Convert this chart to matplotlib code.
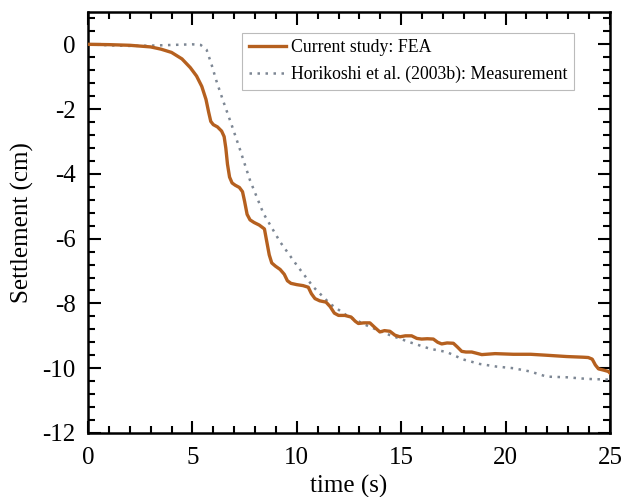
import matplotlib
matplotlib.use("Agg")
import matplotlib.pyplot as plt
from matplotlib.ticker import MultipleLocator

plt.rcParams['font.family'] = ['Liberation Serif', 'DejaVu Serif']

fea_t = [0, 1, 2, 3, 3.5, 4.0, 4.5, 4.9, 5.2, 5.45, 5.65, 5.78, 5.88, 6.0, 6.2, 6.4, 6.52, 6.6, 6.68, 6.78, 6.9, 7.05, 7.25, 7.4, 7.5, 7.62, 7.76, 7.95, 8.2, 8.45, 8.55, 8.68, 8.8, 8.98, 9.2, 9.4, 9.55, 9.72, 10.0, 10.3, 10.55, 10.7, 10.87, 11.1, 11.4, 11.6, 11.8, 12.0, 12.3, 12.6, 12.8, 12.95, 13.2, 13.5, 13.75, 13.98, 14.2, 14.46, 14.7, 14.94, 15.2, 15.5, 15.75, 15.98, 16.25, 16.54, 16.75, 16.94, 17.2, 17.5, 17.7, 17.9, 18.1, 18.38, 18.86, 19.5, 20.37, 21.2, 21.97, 22.93, 23.7, 23.96, 24.15, 24.3, 24.45, 24.7, 24.92, 25.0]
fea_s = [0, -0.01, -0.03, -0.08, -0.15, -0.25, -0.45, -0.72, -0.98, -1.3, -1.7, -2.1, -2.38, -2.48, -2.55, -2.68, -2.85, -3.2, -3.7, -4.1, -4.28, -4.35, -4.42, -4.55, -4.85, -5.25, -5.42, -5.5, -5.58, -5.7, -6.05, -6.5, -6.75, -6.85, -6.95, -7.1, -7.3, -7.38, -7.42, -7.45, -7.5, -7.7, -7.85, -7.92, -7.96, -8.1, -8.3, -8.37, -8.37, -8.42, -8.55, -8.62, -8.6, -8.6, -8.75, -8.88, -8.84, -8.86, -8.98, -9.03, -9.0, -9.0, -9.08, -9.1, -9.09, -9.1, -9.2, -9.25, -9.22, -9.23, -9.35, -9.48, -9.5, -9.5, -9.58, -9.55, -9.57, -9.57, -9.6, -9.64, -9.66, -9.67, -9.72, -9.9, -10.02, -10.06, -10.1, -10.15]

mea_t = [0, 1, 2, 3, 4, 5, 5.4, 5.68, 5.92, 6.16, 6.48, 6.88, 7.28, 7.76, 8.4, 9.2, 10.0, 10.79, 11.59, 12.39, 13.35, 14.3, 15.42, 16.38, 17.18, 17.97, 18.77, 19.57, 20.37, 21.17, 21.97, 22.93, 23.89, 24.84, 25.0]
mea_s = [0, -0.03, -0.05, -0.04, -0.02, 0.0, -0.02, -0.17, -0.63, -1.15, -1.76, -2.49, -3.25, -4.2, -5.22, -6.1, -6.82, -7.49, -8.01, -8.37, -8.68, -8.94, -9.2, -9.4, -9.5, -9.73, -9.87, -9.95, -10.0, -10.1, -10.26, -10.28, -10.33, -10.35, -10.35]

x_ticks = [0, 5, 10, 15, 20, 25]
y_ticks = [0, -2, -4, -6, -8, -10, -12]

fig = plt.figure(figsize=(6.30, 4.97), dpi=100)
ax = fig.add_axes([0.1397, 0.1288, 0.8285, 0.8472])

ax.plot(fea_t, fea_s, color='#B5601F', lw=2.4, label='Current study: FEA', zorder=3, solid_joinstyle='round')
ax.plot(mea_t, mea_s, color='#7D8794', lw=1.8, ls=(0, (1, 2.2)), label='Horikoshi et al. (2003b): Measurement', zorder=2)

ax.set_xlim(0, 25)
ax.set_ylim(-12, 1)
ax.set_xticks(x_ticks)
ax.set_yticks(y_ticks)
ax.set_yticklabels([str(v) for v in y_ticks])
ax.xaxis.set_minor_locator(MultipleLocator(1))
ax.yaxis.set_minor_locator(MultipleLocator(0.4))
ax.tick_params(which='both', direction='in', top=True, right=True, labelsize=18, width=1.5, colors='black')
ax.tick_params(which='major', length=9)
ax.tick_params(which='minor', length=5)
ax.tick_params(axis='x', pad=10)
ax.tick_params(axis='y', pad=9)
for sp in ax.spines.values():
    sp.set_linewidth(1.8)

ax.set_xlabel('time (s)', fontsize=18, labelpad=4)
ax.set_ylabel('Settlement (cm)', fontsize=18, labelpad=6)

leg = ax.legend(loc='upper right', bbox_to_anchor=(0.931, 0.950), borderaxespad=0, fontsize=12.8, frameon=True,
                fancybox=False, edgecolor='#AAAAAA', handlelength=2.1, borderpad=0.35, labelspacing=0.55,
                handletextpad=0.3)
leg.get_frame().set_linewidth(0.8)

fig.savefig('out.png', dpi=100)
